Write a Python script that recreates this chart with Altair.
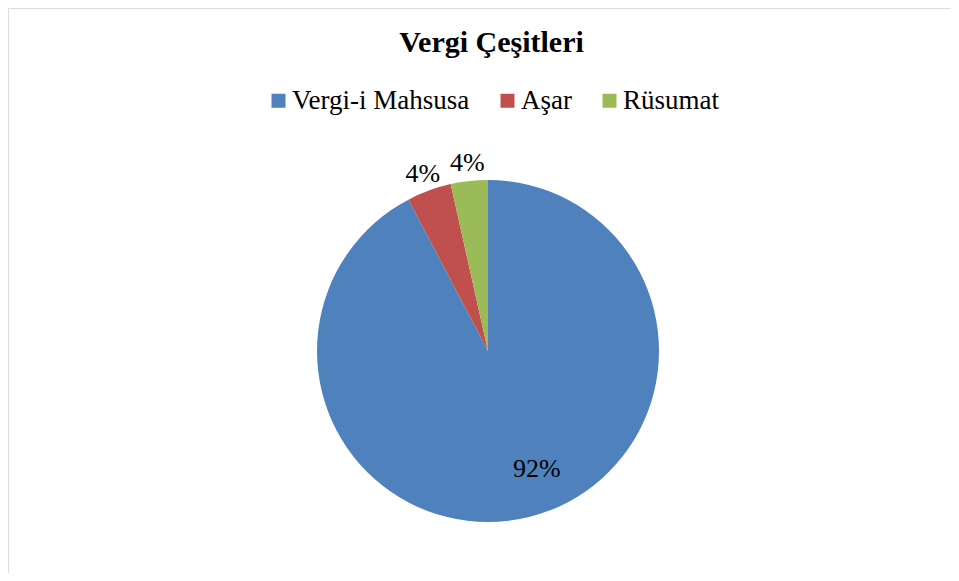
import altair as alt
import pandas as pd

categories = ["Vergi-i Mahsusa", "Aşar", "Rüsumat"]
shares = [92.3, 4.2, 3.5]
order_idx = [0, 1, 2]
colors = ["#4F81BD", "#C0504D", "#9BBB59"]

df = pd.DataFrame({"category": categories, "share": shares, "idx": order_idx})

W, H = 943, 565
CX, CY, R = 480, 343, 171
FONT = "Liberation Serif"

base = alt.Chart(df).transform_joinaggregate(
    total="sum(share)"
).transform_window(
    cum="sum(share)", sort=[alt.SortField("idx", order="ascending")]
).transform_calculate(
    f_start="(datum.cum - datum.share) / datum.total",
    f_end="datum.cum / datum.total",
    f_mid="(datum.cum - datum.share / 2) / datum.total",
    pct="datum.share / datum.total",
    label="round(datum.share / datum.total * 100) + '%'",
)

theta_scale = alt.Scale(domain=[0, 1])

pie = base.mark_arc(radius=R).encode(
    x=alt.value(CX),
    y=alt.value(CY),
    theta=alt.Theta("f_start:Q", scale=theta_scale),
    theta2="f_end:Q",
    color=alt.Color(
        "category:N",
        scale=alt.Scale(domain=categories, range=colors),
        sort=categories,
        legend=alt.Legend(
            title=None,
            orient="none",
            direction="horizontal",
            legendX=257,
            legendY=79,
            symbolType="square",
            symbolSize=196,
            symbolStrokeWidth=0,
            labelFont=FONT,
            labelFontSize=27,
            labelColor="#000000",
            labelOffset=0,
            labelLimit=600,
            columnPadding=24,
            padding=0,
        ),
    ),
)

outer_labels = base.transform_filter("datum.pct <= 0.5").mark_text(
    font=FONT, fontSize=26, color="#000000", radius=189
).encode(
    x=alt.value(CX),
    y=alt.value(CY),
    theta=alt.Theta("f_mid:Q", scale=theta_scale),
    text="label:N",
)

inner_labels = base.transform_filter("datum.pct > 0.5").mark_text(
    font=FONT, fontSize=26, color="#000000", radius=125, dx=19, dy=-3
).encode(
    x=alt.value(CX),
    y=alt.value(CY),
    theta=alt.Theta("f_mid:Q", scale=theta_scale),
    text="label:N",
)

chart = alt.layer(pie, outer_labels, inner_labels).properties(
    width=W,
    height=H,
    padding=0,
    autosize=alt.AutoSizeParams(type="none"),
    title=alt.TitleParams(
        "Vergi Çeşitleri",
        font=FONT,
        fontSize=30,
        fontWeight="bold",
        color="#000000",
        anchor="middle",
        offset=-50,
        dx=12,
    ),
).configure_view(stroke="#7F7F7F", strokeWidth=2.5).configure(
    background="white", font=FONT
)

chart.save("out.html", embed_options={"renderer": "svg", "actions": False})
